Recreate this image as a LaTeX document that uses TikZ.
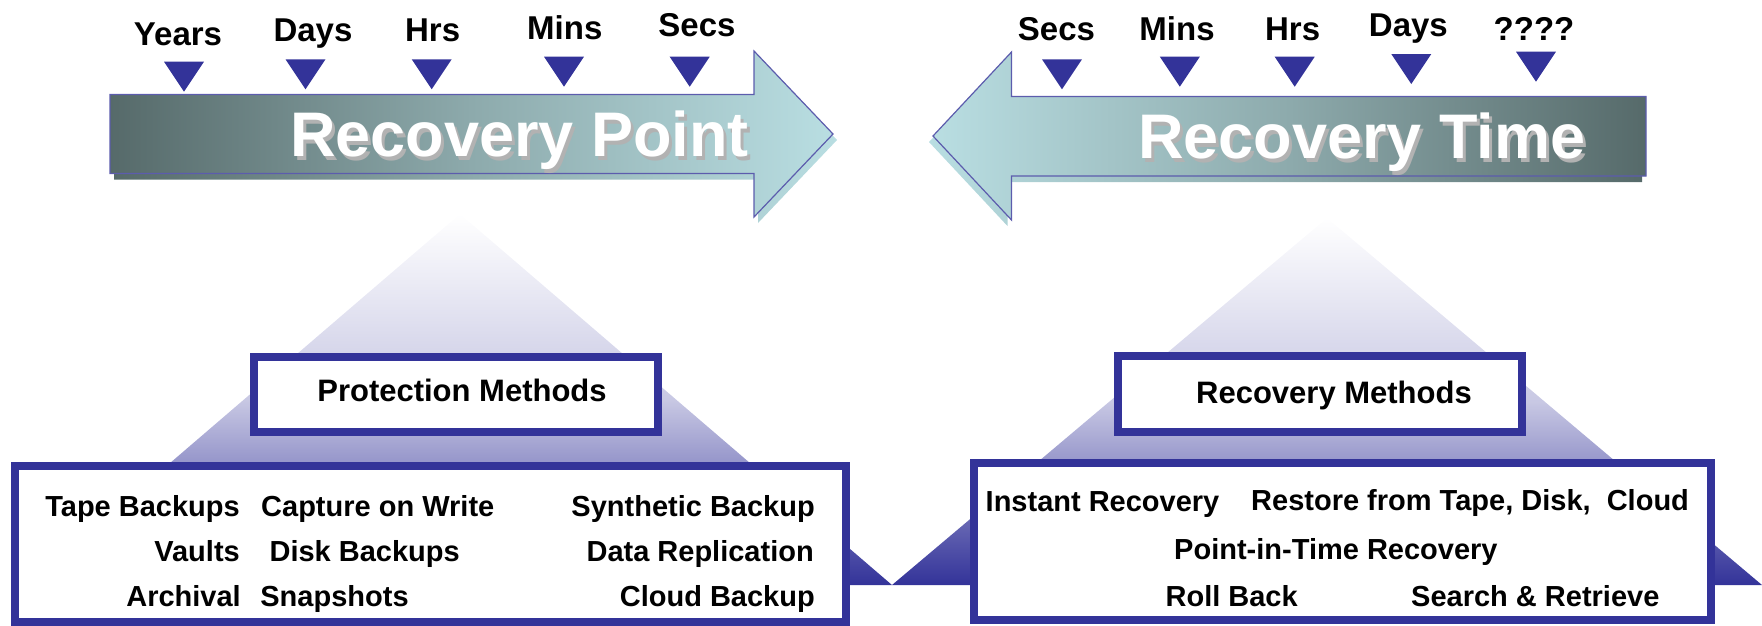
\documentclass[tikz,border=0pt]{standalone}
\usepackage{fontspec}
\setmainfont{Liberation Sans}
\definecolor{methodblue}{HTML}{333399}
\definecolor{arrowdark}{HTML}{566A6A}
\definecolor{arrowmid}{HTML}{8DAAAC}
\definecolor{arrowlight}{HTML}{B9DEE2}
\tikzset{
  ticktri/.style={fill=methodblue},
  ticklabel/.style={font=\fontsize{33}{40}\selectfont\bfseries,inner sep=0pt,anchor=base},
  pointarrow/.style={left color=arrowdark,right color=arrowlight,middle color=arrowmid},
  timearrow/.style={left color=arrowlight,right color=arrowdark,middle color=arrowmid},
  arrowedge/.style={draw=methodblue!80,line width=1.2pt},
  arrowtitle/.style={font=\fontsize{63}{76}\selectfont\bfseries,inner sep=0pt,anchor=base west,text=white},
  titleshadow/.style={arrowtitle,text=black!30},
  pyramid/.style={top color=white,bottom color=methodblue,middle color=methodblue!27!white},
  methodbox/.style={draw=methodblue,line width=8pt,fill=white,inner sep=0pt},
  boxtitle/.style={font=\fontsize{31}{37}\selectfont\bfseries,inner sep=0pt,anchor=base},
  item/.style={font=\fontsize{29}{35}\selectfont\bfseries,inner sep=0pt}
}

\begin{document}
\begin{tikzpicture}[x=1pt,y=-1pt]
  \useasboundingbox (0,0) rectangle (1762,625);

  % Pyramids
  \shade[pyramid] (460,214) -- (892,585) -- (28,585) -- cycle;
  \shade[pyramid] (1327,218) -- (1762,585) -- (892,585) -- cycle;

  % Recovery point arrow
  \shade[pointarrow,shift={(4,6)}] (110,94.5) -- (754,94.5) -- (754,51) -- (833,134)
    -- (754,217) -- (754,173.5) -- (110,173.5) -- cycle;
  \shade[pointarrow,arrowedge] (110,94.5) -- (754,94.5) -- (754,51) -- (833,134)
    -- (754,217) -- (754,173.5) -- (110,173.5) -- cycle;
  \node[titleshadow] (rpshadow) at (293,160.5) {Recovery Point};
  \node[arrowtitle] (rptitle) at (290,156.7) {Recovery Point};

  % Recovery time arrow
  \shade[timearrow,shift={(-4,6)}] (1646,96.5) -- (1011.5,96.5) -- (1011.5,52) -- (933,136)
    -- (1011.5,220) -- (1011.5,176) -- (1646,176) -- cycle;
  \shade[timearrow,arrowedge] (1646,96.5) -- (1011.5,96.5) -- (1011.5,52) -- (933,136)
    -- (1011.5,220) -- (1011.5,176) -- (1646,176) -- cycle;
  \node[titleshadow] (rtshadow) at (1141,162) {Recovery Time};
  \node[arrowtitle] (rttitle) at (1138,158.3) {Recovery Time};

  % Time scales
  \foreach \txt/\lx/\ly/\tx/\ty/\nm in {Years/178/45/184/91.7/years,Days/313/41.7/305.5/89.3/days,
      Hrs/432.6/41.7/431.7/89.3/hrs,Mins/564.8/39.3/564/86.7/mins,Secs/697/36.7/689.7/86.7/secs}
  {
    \node[ticklabel] (rp-\nm) at (\lx,\ly) {\txt};
    \fill[ticktri] (\tx-20,\ty-30) -- (\tx+20,\ty-30) -- (\tx,\ty) -- cycle;
  }
  \foreach \txt/\lx/\ly/\tx/\ty/\nm in {Secs/1056.5/40/1062/89.3/secs,Mins/1177/40.7/1179.8/86.7/mins,
      Hrs/1292.6/40.7/1294.7/86.7/hrs,Days/1408.4/36.7/1411.3/84/days,????/1534/40/1536/81.7/unknown}
  {
    \node[ticklabel] (rt-\nm) at (\lx,\ly) {\txt};
    \fill[ticktri] (\tx-20,\ty-30) -- (\tx+20,\ty-30) -- (\tx,\ty) -- cycle;
  }

  % Method boxes
  \node[methodbox,minimum width=404pt,minimum height=75pt] (protectbox) at (456,394.5) {};
  \node[boxtitle] (protect) at (462,401.7) {Protection Methods};
  \node[methodbox,minimum width=404pt,minimum height=75.5pt] (recoverbox) at (1320,393.75) {};
  \node[boxtitle] (recover) at (1334,403) {Recovery Methods};

  % Protection list
  \node[methodbox,minimum width=831pt,minimum height=156.5pt] (protectlist) at (430.5,543.75) {};
  \node[item,anchor=base east] (tape) at (240,516.7) {Tape Backups};
  \node[item,anchor=base east] (vaults) at (240,561.7) {Vaults};
  \node[item,anchor=base east] (archival) at (241,606.7) {Archival};
  \node[item,anchor=base west] (capture) at (261,516.7) {Capture on Write};
  \node[item,anchor=base west] (disk) at (269.4,561.7) {Disk Backups};
  \node[item,anchor=base west] (snapshots) at (260.2,606.7) {Snapshots};
  \node[item,anchor=base east] (synthetic) at (815,516.7) {Synthetic Backup};
  \node[item,anchor=base east] (replication) at (814,561.7) {Data Replication};
  \node[item,anchor=base east] (cloud) at (815,606.7) {Cloud Backup};

  % Recovery list
  \node[methodbox,minimum width=737pt,minimum height=157pt] (recoverlist) at (1342.5,541.1) {};
  \node[item,anchor=base west] (instant) at (985.5,511) {Instant Recovery};
  \node[item,anchor=base west] (restore) at (1251,510.5) {Restore from Tape, Disk,\ \ Cloud};
  \node[item,anchor=base west] (pit) at (1174,559.3) {Point-in-Time Recovery};
  \node[item,anchor=base west] (rollback) at (1165.4,606) {Roll Back};
  \node[item,anchor=base west] (search) at (1411,606.5) {Search \& Retrieve};
\end{tikzpicture}
\end{document}
